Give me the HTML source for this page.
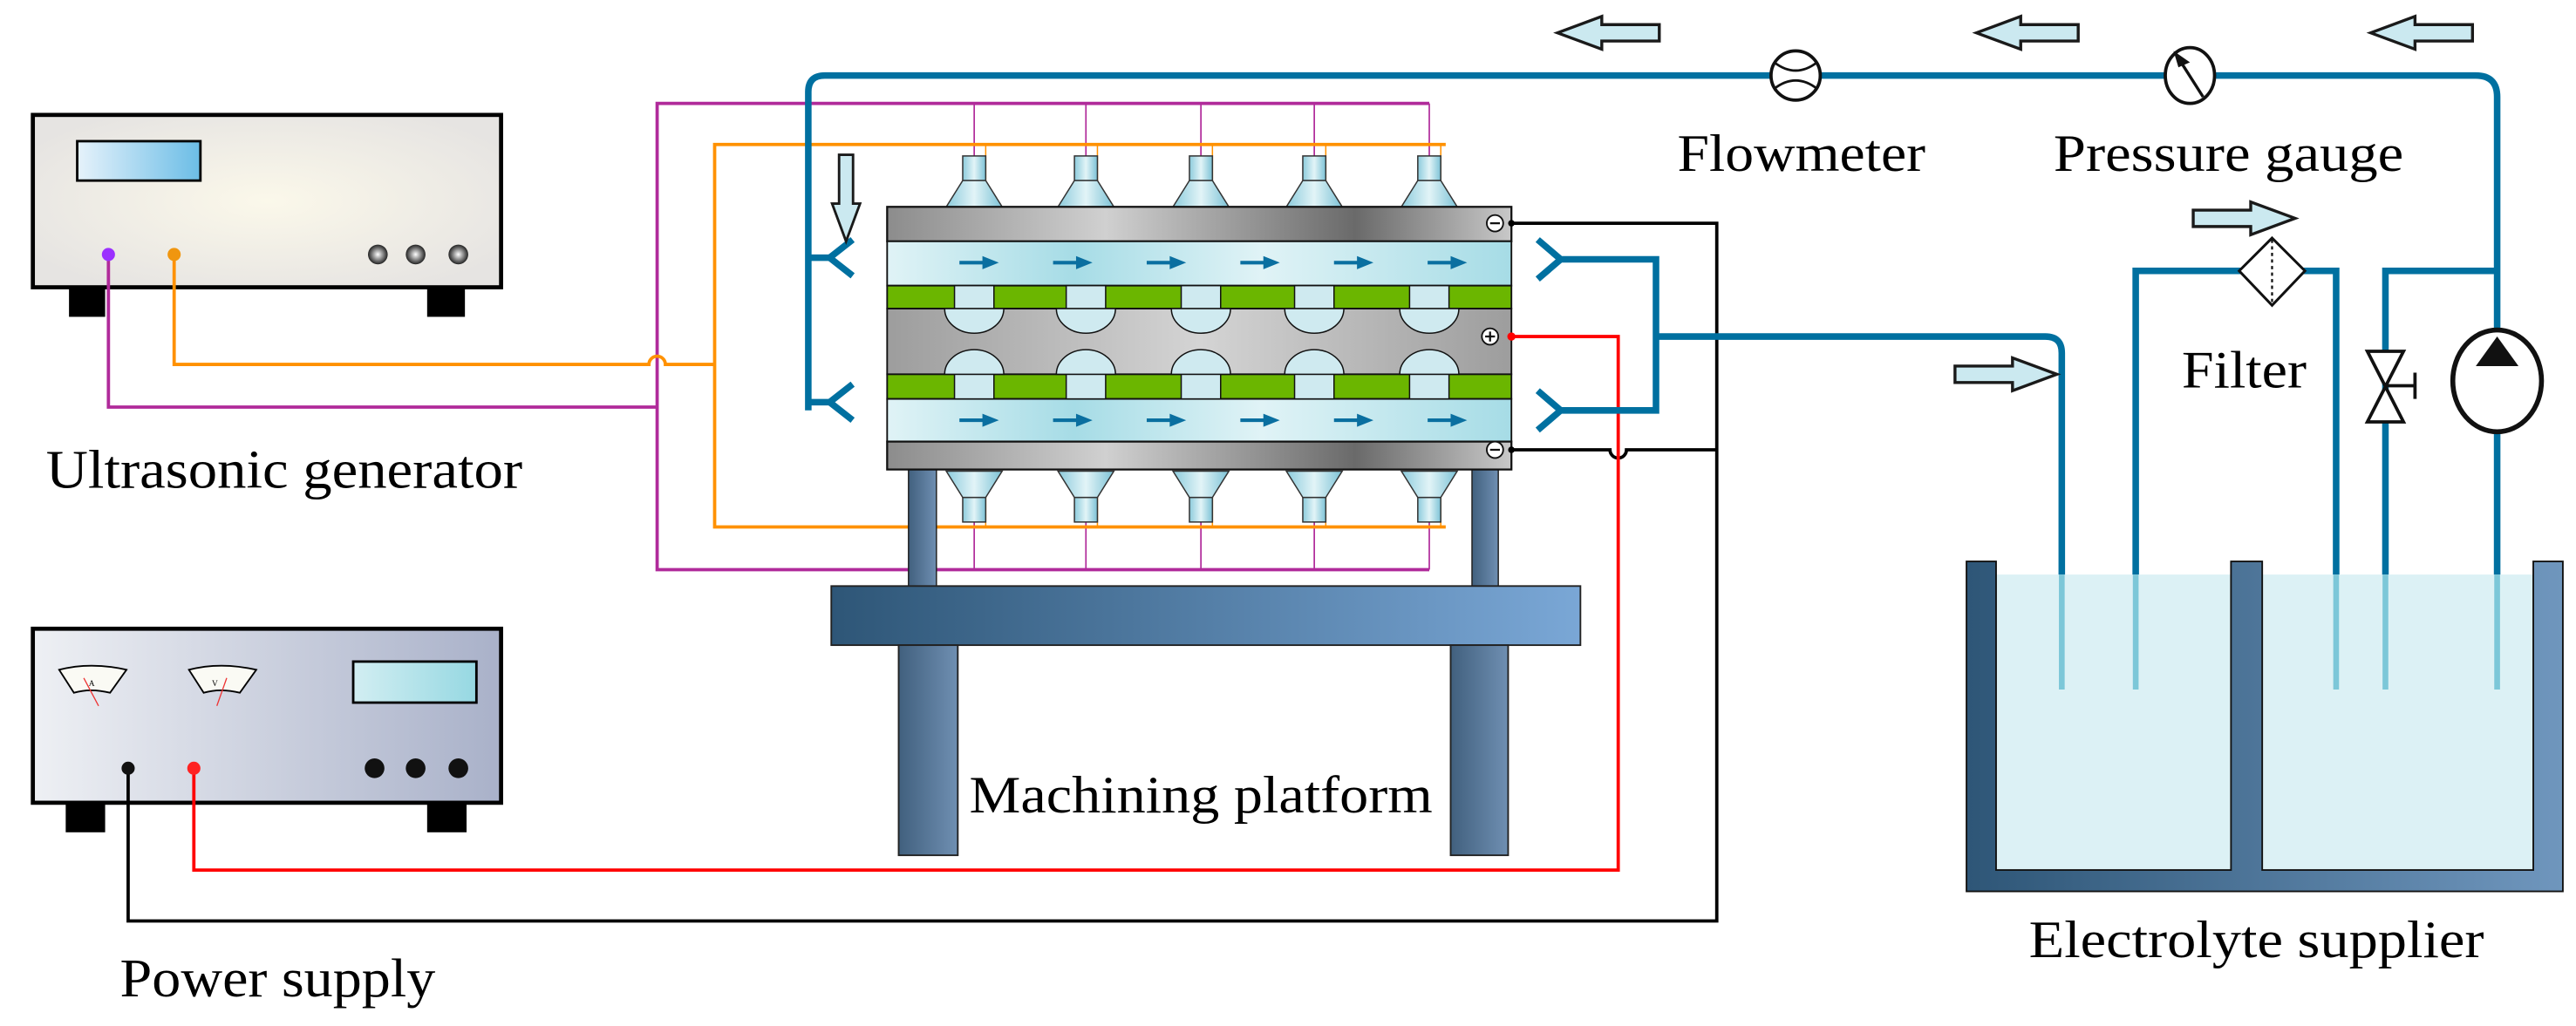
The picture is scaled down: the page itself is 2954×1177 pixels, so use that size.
<!DOCTYPE html>
<html><head><meta charset="utf-8"><style>html,body{margin:0;padding:0;background:#fff}svg{display:block}</style></head>
<body>
<svg width="2954" height="1177" viewBox="0 0 1568 625" preserveAspectRatio="none" xmlns="http://www.w3.org/2000/svg" font-family="Liberation Serif, serif">
<defs>
<radialGradient id="ug" cx="0.5" cy="0.5" r="0.6"><stop offset="0" stop-color="#fbf8ea"/><stop offset="1" stop-color="#e6e4e2"/></radialGradient>
<linearGradient id="ps" x1="0" x2="1"><stop offset="0" stop-color="#eef0f4"/><stop offset="1" stop-color="#a9b1c9"/></linearGradient>
<linearGradient id="disp1" x1="0" x2="1"><stop offset="0" stop-color="#e6f2fb"/><stop offset="1" stop-color="#6bbde6"/></linearGradient>
<linearGradient id="disp2" x1="0" x2="1"><stop offset="0" stop-color="#d2eef2"/><stop offset="1" stop-color="#96d8e2"/></linearGradient>
<linearGradient id="plate" x1="0" x2="1"><stop offset="0" stop-color="#8c8c8c"/><stop offset="0.35" stop-color="#d0d0d0"/><stop offset="0.75" stop-color="#6a6a6a"/><stop offset="1" stop-color="#c8c8c8"/></linearGradient>
<linearGradient id="mid" x1="0" x2="1"><stop offset="0" stop-color="#9d9d9d"/><stop offset="0.5" stop-color="#d4d4d4"/><stop offset="1" stop-color="#9d9d9d"/></linearGradient>
<linearGradient id="chan" x1="0" x2="1"><stop offset="0" stop-color="#e0f3f6"/><stop offset="0.3" stop-color="#a6dce6"/><stop offset="0.6" stop-color="#e0f3f6"/><stop offset="1" stop-color="#a6dce6"/></linearGradient>
<linearGradient id="trans" x1="0" x2="1"><stop offset="0" stop-color="#8ccbdc"/><stop offset="0.5" stop-color="#e2f4f7"/><stop offset="1" stop-color="#7cc2d6"/></linearGradient>
<linearGradient id="tbl" x1="0" x2="1"><stop offset="0" stop-color="#2e5677"/><stop offset="1" stop-color="#7aa7d6"/></linearGradient>
<linearGradient id="leg" x1="0" x2="1"><stop offset="0" stop-color="#41607e"/><stop offset="1" stop-color="#6f8fb2"/></linearGradient>
<linearGradient id="tank" x1="0" x2="1"><stop offset="0" stop-color="#2e5677"/><stop offset="1" stop-color="#6f96bd"/></linearGradient>
<radialGradient id="knob"><stop offset="0" stop-color="#fff"/><stop offset="1" stop-color="#222"/></radialGradient>
<g id="arrL"><path d="M0,0 L27,-10 L27,-5 L62,-5 L62,5 L27,5 L27,10 Z" fill="#cbe9f0" stroke="#1a1a1a" stroke-width="1.8"/></g>
<g id="tdT"><rect x="-7" y="0" width="14" height="15" fill="url(#trans)" stroke="#333" stroke-width="0.8"/><path d="M-7,15 L7,15 L17,31 L-17,31 Z" fill="url(#trans)" stroke="#333" stroke-width="0.8"/></g>
<g id="ar"><path d="M-14,0 L2,0" stroke="#0a6fa0" stroke-width="2.2"/><path d="M0,-4 L10,0 L0,4 Z" fill="#0a6fa0"/></g>
</defs>

<!-- Ultrasonic generator -->
<rect x="20" y="70" width="285" height="105" fill="url(#ug)" stroke="#000" stroke-width="2.5"/>
<rect x="42" y="175" width="22" height="18" fill="#000"/><rect x="260" y="175" width="23" height="18" fill="#000"/>
<rect x="47" y="86" width="75" height="24" fill="url(#disp1)" stroke="#000" stroke-width="1.5"/>
<circle cx="230" cy="155" r="6" fill="url(#knob)"/><circle cx="253" cy="155" r="6" fill="url(#knob)"/><circle cx="279" cy="155" r="6" fill="url(#knob)"/>
<text x="28" y="297" font-size="33" fill="#000" textLength="290" lengthAdjust="spacingAndGlyphs">Ultrasonic generator</text>

<!-- Power supply -->
<rect x="20" y="383" width="285" height="106" fill="url(#ps)" stroke="#000" stroke-width="2.5"/>
<rect x="40" y="489" width="24" height="18" fill="#000"/><rect x="260" y="489" width="24" height="18" fill="#000"/>
<rect x="215" y="403" width="75" height="25" fill="url(#disp2)" stroke="#000" stroke-width="1.5"/>
<path d="M36,408 Q55,403 77,408 L67,422 Q55,419 45,422 Z" fill="#fafaf4" stroke="#000" stroke-width="1"/>
<path d="M115,408 Q134,403 156,408 L146,422 Q134,419 124,422 Z" fill="#fafaf4" stroke="#000" stroke-width="1"/>
<line x1="60" y1="430" x2="51" y2="413" stroke="#e33" stroke-width="0.7"/><line x1="132" y1="430" x2="138" y2="413" stroke="#e33" stroke-width="0.7"/>
<text x="54" y="418" font-size="5">A</text><text x="129" y="418" font-size="5">V</text>
<circle cx="228" cy="468" r="6" fill="#111"/><circle cx="253" cy="468" r="6" fill="#111"/><circle cx="279" cy="468" r="6" fill="#111"/>
<text x="73" y="607" font-size="33" fill="#000" textLength="192" lengthAdjust="spacingAndGlyphs">Power supply</text>

<!-- wires purple / orange -->
<g fill="none" stroke-linejoin="miter">
<path d="M66,155 V248 H400 V63 H870 M400,248 V347 H870" stroke="#b02a9a" stroke-width="2"/>
<path d="M593,63 V95 M661,63 V95 M731,63 V95 M800,63 V95 M870,63 V95 M593,318 V347 M661,318 V347 M731,318 V347 M800,318 V347 M870,318 V347" stroke="#b02a9a" stroke-width="0.9"/>
<path d="M106,155 V222 H395 A5,5 0 0 1 405,222 H435 V88 H880 M435,222 V321 H880" stroke="#ff9100" stroke-width="2"/>
<path d="M600,88 V110 M668,88 V110 M738,88 V110 M807,88 V110 M877,88 V110 M600,302 V321 M668,302 V321 M738,302 V321 M807,302 V321 M877,302 V321" stroke="#ff9100" stroke-width="0.8"/>
</g>
<circle cx="66" cy="155" r="4" fill="#9b30ff"/><circle cx="106" cy="155" r="4" fill="#f0960f"/>

<!-- Platform -->
<rect x="553" y="286" width="17" height="72" fill="url(#leg)" stroke="#222" stroke-width="0.8"/>
<rect x="896" y="286" width="16" height="72" fill="url(#leg)" stroke="#222" stroke-width="0.8"/>
<rect x="506" y="357" width="456" height="36" fill="url(#tbl)" stroke="#222" stroke-width="1"/>
<rect x="547" y="393" width="36" height="128" fill="url(#leg)" stroke="#222" stroke-width="1"/>
<rect x="883" y="393" width="35" height="128" fill="url(#leg)" stroke="#222" stroke-width="1"/>
<text x="590" y="495" font-size="32" fill="#000" textLength="282" lengthAdjust="spacingAndGlyphs">Machining platform</text>

<!-- transducers -->
<g><use href="#tdT" x="593" y="95"/><use href="#tdT" x="661" y="95"/><use href="#tdT" x="731" y="95"/><use href="#tdT" x="800" y="95"/><use href="#tdT" x="870" y="95"/></g>
<g transform="translate(0,413) scale(1,-1)"><use href="#tdT" x="593" y="95"/><use href="#tdT" x="661" y="95"/><use href="#tdT" x="731" y="95"/><use href="#tdT" x="800" y="95"/><use href="#tdT" x="870" y="95"/></g>

<!-- block -->
<rect x="540" y="126" width="380" height="21" fill="url(#plate)" stroke="#111" stroke-width="1.2"/>
<rect x="540" y="147" width="380" height="27" fill="url(#chan)" stroke="#111" stroke-width="1"/>
<rect x="540" y="174" width="380" height="14" fill="#6bb600" stroke="#111" stroke-width="1"/>
<rect x="540" y="188" width="380" height="40" fill="url(#mid)" stroke="#111" stroke-width="1"/>
<rect x="540" y="228" width="380" height="15" fill="#6bb600" stroke="#111" stroke-width="1"/>
<rect x="540" y="243" width="380" height="26" fill="url(#chan)" stroke="#111" stroke-width="1"/>
<rect x="540" y="269" width="380" height="17" fill="url(#plate)" stroke="#111" stroke-width="1.2"/>
<g fill="#cfeaf0" stroke="#111" stroke-width="0.8">
<rect x="581" y="174" width="24" height="14"/><rect x="649" y="174" width="24" height="14"/><rect x="719" y="174" width="24" height="14"/><rect x="788" y="174" width="24" height="14"/><rect x="858" y="174" width="24" height="14"/>
<rect x="581" y="228" width="24" height="15"/><rect x="649" y="228" width="24" height="15"/><rect x="719" y="228" width="24" height="15"/><rect x="788" y="228" width="24" height="15"/><rect x="858" y="228" width="24" height="15"/>
<path d="M575,188 A18,15 0 0 0 611,188 Z"/><path d="M643,188 A18,15 0 0 0 679,188 Z"/><path d="M713,188 A18,15 0 0 0 749,188 Z"/><path d="M782,188 A18,15 0 0 0 818,188 Z"/><path d="M852,188 A18,15 0 0 0 888,188 Z"/>
<path d="M575,228 A18,15 0 0 1 611,228 Z"/><path d="M643,228 A18,15 0 0 1 679,228 Z"/><path d="M713,228 A18,15 0 0 1 749,228 Z"/><path d="M782,228 A18,15 0 0 1 818,228 Z"/><path d="M852,228 A18,15 0 0 1 888,228 Z"/>
</g>
<g><use href="#ar" x="598" y="160"/><use href="#ar" x="655" y="160"/><use href="#ar" x="712" y="160"/><use href="#ar" x="769" y="160"/><use href="#ar" x="826" y="160"/><use href="#ar" x="883" y="160"/>
<use href="#ar" x="598" y="256"/><use href="#ar" x="655" y="256"/><use href="#ar" x="712" y="256"/><use href="#ar" x="769" y="256"/><use href="#ar" x="826" y="256"/><use href="#ar" x="883" y="256"/></g>
<g fill="#fff" stroke="#111" stroke-width="1"><circle cx="910" cy="136" r="5"/><circle cx="910" cy="274" r="5"/><circle cx="907" cy="205" r="5"/></g>
<path d="M907,136 h6 M907,274 h6 M904,205 h6 M907,202 v6" stroke="#111" stroke-width="1.2"/>

<!-- power wires -->
<g fill="none" stroke-width="2">
<path d="M920,136 H1045 V561 H78 V468 M920,274 H980 A5,5 0 0 0 990,274 H1045" stroke="#000"/>
<path d="M920,205 H985 V530 H118 V468" stroke="#f00"/>
</g>
<circle cx="78" cy="468" r="4" fill="#111"/><circle cx="118" cy="468" r="4" fill="#f22"/>
<circle cx="920" cy="136" r="2" fill="#000"/><circle cx="920" cy="274" r="2" fill="#000"/><circle cx="920" cy="205" r="2.5" fill="#f00"/>

<!-- Tank -->
<rect x="1215" y="350" width="327" height="180" fill="#d6eff3" opacity="0.85"/>
<path d="M1197,342 H1215 V530 H1358 V342 H1377 V530 H1542 V342 H1560 V543 H1197 Z" fill="url(#tank)" stroke="#111" stroke-width="1"/>
<text x="1235" y="583" font-size="32" fill="#000" textLength="277" lengthAdjust="spacingAndGlyphs">Electrolyte supplier</text>

<!-- pipes -->
<g fill="none" stroke="#0070a0" stroke-width="4">
<path d="M1093,46 H502 Q492,46 492,56 V250 M492,157 H505 M492,245 H505"/>
<path d="M519,146 L505,157 L519,168 M519,234 L505,245 L519,256"/>
<path d="M1093,46 H1507 Q1520,46 1520,59 V350"/>
<path d="M936,146 L950,158 L936,170 M936,238 L950,250 L936,262 M950,158 H1008 V250 H950 M1008,205 H1245 Q1255,205 1255,215 V350"/>
<path d="M1300,350 V165 H1422 V350 M1452,350 V165 H1520"/>
</g>
<g fill="none" stroke="#7cc7d8" stroke-width="3.5"><path d="M1255,350 V420 M1300,350 V420 M1422,350 V420 M1452,350 V420 M1520,350 V420"/></g>

<!-- instruments -->
<ellipse cx="1093" cy="46" rx="15" ry="15" fill="#fff" stroke="#111" stroke-width="2"/>
<path d="M1080,38 Q1093,48 1106,38 M1080,54 Q1093,44 1106,54" fill="none" stroke="#111" stroke-width="1.5"/>
<ellipse cx="1333" cy="46" rx="15" ry="17" fill="#fff" stroke="#111" stroke-width="2"/>
<path d="M1341,59 L1327,37" stroke="#111" stroke-width="1.8"/><path d="M1323,31 L1333,38 L1326,41 Z" fill="#111"/>
<text x="1021" y="104" font-size="32" fill="#000" textLength="151" lengthAdjust="spacingAndGlyphs">Flowmeter</text>
<text x="1250" y="104" font-size="32" fill="#000" textLength="213" lengthAdjust="spacingAndGlyphs">Pressure gauge</text>
<path d="M1383,145 L1403,165 L1383,186 L1363,165 Z" fill="#fff" stroke="#111" stroke-width="1.6"/>
<path d="M1383,146 V185" stroke="#111" stroke-width="1.2" stroke-dasharray="2,2"/>
<text x="1328" y="236" font-size="32" fill="#000" textLength="76" lengthAdjust="spacingAndGlyphs">Filter</text>
<path d="M1441,214 L1463,214 L1441,257 L1463,257 Z" fill="#fff" stroke="#111" stroke-width="2"/>
<path d="M1452,235 H1470 M1470,227 V243" stroke="#111" stroke-width="2"/>
<ellipse cx="1520" cy="232" rx="27" ry="31" fill="#fff" stroke="#111" stroke-width="3"/>
<path d="M1520,205 L1533,223 L1507,223 Z" fill="#111"/>

<!-- flow arrows -->
<use href="#arrL" x="948" y="20"/><use href="#arrL" x="1203" y="20"/><use href="#arrL" x="1443" y="20"/>
<use href="#arrL" transform="translate(1252,228) scale(-1,1)"/>
<use href="#arrL" transform="translate(1397,133) scale(-1,1)"/>
<use href="#arrL" transform="translate(515,147) rotate(-90) scale(0.85)"/>
</svg>
</body></html>
